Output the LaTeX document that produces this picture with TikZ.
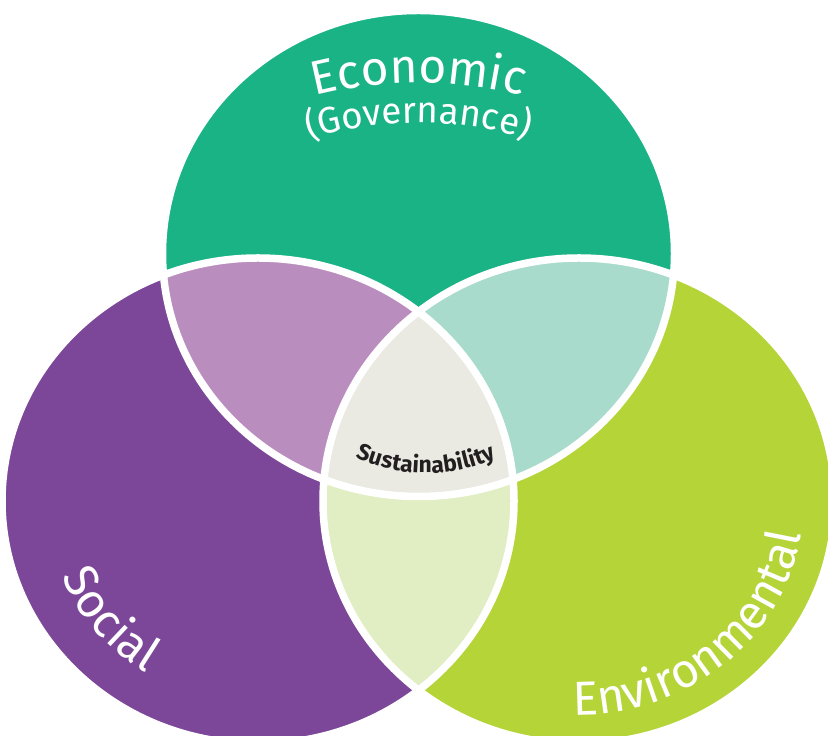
\documentclass[tikz,border=0pt]{standalone}
\usepackage{fontspec}
\setmainfont{Fira Sans}
\usepackage{tikz}
\usetikzlibrary{
  decorations.text
}
\tikzset{
  ring/.style={x radius=256,y radius=243},
  ring outline/.style={draw=white,line width=7.5bp},
  label arc/.style={decorate,decoration={text along path,text align=center,#1}},
}
\definecolor{econ}{HTML}{19B386}
\definecolor{soc}{HTML}{7C4798}
\definecolor{env}{HTML}{B5D438}
\definecolor{econsoc}{HTML}{BA8DBF}
\definecolor{econenv}{HTML}{A8DBCB}
\definecolor{socenv}{HTML}{E1EDC2}
\definecolor{core}{HTML}{EAEAE3}
\definecolor{coretext}{HTML}{231F20}

\begin{document}
\begin{tikzpicture}[x=1bp,y=1bp]
\useasboundingbox (0,0) rectangle (828,736);
\coordinate (econ) at (418.5,482.5);
\coordinate (soc) at (258,235);
\coordinate (env) at (579,235);
\coordinate (econ label) at (418.5,233);
\coordinate (core label) at (426,433);
\fill[econ] (econ) ellipse[ring];
\fill[soc] (soc) ellipse[ring];
\fill[env] (env) ellipse[ring];
\begin{scope}
  \clip (econ) ellipse[ring];
  \fill[econsoc] (soc) ellipse[ring];
  \fill[econenv] (env) ellipse[ring];
\end{scope}
\begin{scope}
  \clip (soc) ellipse[ring];
  \fill[socenv] (env) ellipse[ring];
  \clip (econ) ellipse[ring];
  \fill[core] (env) ellipse[ring];
\end{scope}
\foreach \c in {econ,soc,env}
  \draw[ring outline] (\c) ellipse[ring];
\path[white,label arc={text={|\color{white}\fontsize{48}{50}\selectfont|Economic}}]
  (econ label) ++(115:420) arc[start angle=115,end angle=65,radius=420];
\path[white,label arc={text={|\color{white}\fontsize{37}{39}\selectfont|(Governance)}}]
  (econ label) ++(120:380) arc[start angle=120,end angle=60,radius=380];
\path[white,label arc={text={|\color{white}\fontsize{48}{50}\selectfont|Social}}]
  (soc) ++(-165:212 and 202) arc[start angle=-165,end angle=-115,x radius=212,y radius=202];
\path[white,label arc={text={|\color{white}\fontsize{48}{50}\selectfont|Environmental}}]
  (env) ++(-96:225 and 214) arc[start angle=-96,end angle=-4,x radius=225,y radius=214];
\path[coretext,label arc={text={|\color{coretext}\fontsize{23}{25}\selectfont\bfseries|Sustainability}}]
  (core label) ++(-118:170) arc[start angle=-118,end angle=-62,radius=170];
\end{tikzpicture}
\end{document}
